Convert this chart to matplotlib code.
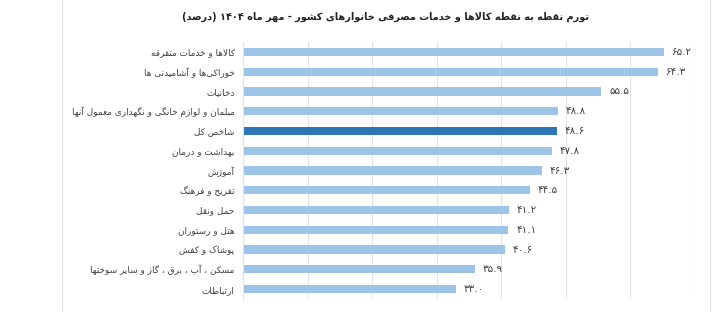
import matplotlib
matplotlib.use('Agg')
import matplotlib.pyplot as plt

# data, top to bottom
categories = ['کالاها و خدمات متفرقه',
              'خوراکی‌ها و آشامیدنی ها',
              'دخانیات',
              'مبلمان و لوازم خانگی و نگهداری معمول آنها',
              'شاخص کل',
              'بهداشت و درمان',
              'آموزش',
              'تفریح و فرهنگ',
              'حمل ونقل',
              'هتل و رستوران',
              'پوشاک و کفش',
              'مسکن ، آب ، برق ، گاز و سایر سوختها',
              'ارتباطات']
values = [65.2, 64.3, 55.5, 48.8, 48.6, 47.8, 46.3, 44.5, 41.2, 41.1, 40.6, 35.9, 33.0]
highlight = 'شاخص کل'
title = 'تورم نقطه به نقطه کالاها و خدمات مصرفی خانوارهای کشور - مهر ماه ۱۴۰۴ (درصد)'

# matplotlib has no arabic shaping, so do a small one by hand
# letter: (isolated, final, initial, medial); two forms = joins only on the right
FORMS = {
    'ا': (0xFE8D, 0xFE8E), 'آ': (0xFE81, 0xFE82), 'د': (0xFEA9, 0xFEAA),
    'ذ': (0xFEAB, 0xFEAC), 'ر': (0xFEAD, 0xFEAE), 'ز': (0xFEAF, 0xFEB0),
    'ژ': (0xFB8A, 0xFB8B), 'و': (0xFEED, 0xFEEE),
    'ب': (0xFE8F, 0xFE90, 0xFE91, 0xFE92), 'پ': (0xFB56, 0xFB57, 0xFB58, 0xFB59),
    'ت': (0xFE95, 0xFE96, 0xFE97, 0xFE98), 'ث': (0xFE99, 0xFE9A, 0xFE9B, 0xFE9C),
    'ج': (0xFE9D, 0xFE9E, 0xFE9F, 0xFEA0), 'چ': (0xFB7A, 0xFB7B, 0xFB7C, 0xFB7D),
    'ح': (0xFEA1, 0xFEA2, 0xFEA3, 0xFEA4), 'خ': (0xFEA5, 0xFEA6, 0xFEA7, 0xFEA8),
    'س': (0xFEB1, 0xFEB2, 0xFEB3, 0xFEB4), 'ش': (0xFEB5, 0xFEB6, 0xFEB7, 0xFEB8),
    'ص': (0xFEB9, 0xFEBA, 0xFEBB, 0xFEBC), 'ض': (0xFEBD, 0xFEBE, 0xFEBF, 0xFEC0),
    'ط': (0xFEC1, 0xFEC2, 0xFEC3, 0xFEC4), 'ظ': (0xFEC5, 0xFEC6, 0xFEC7, 0xFEC8),
    'ع': (0xFEC9, 0xFECA, 0xFECB, 0xFECC), 'غ': (0xFECD, 0xFECE, 0xFECF, 0xFED0),
    'ف': (0xFED1, 0xFED2, 0xFED3, 0xFED4), 'ق': (0xFED5, 0xFED6, 0xFED7, 0xFED8),
    'ک': (0xFB8E, 0xFB8F, 0xFB90, 0xFB91), 'گ': (0xFB92, 0xFB93, 0xFB94, 0xFB95),
    'ل': (0xFEDD, 0xFEDE, 0xFEDF, 0xFEE0), 'م': (0xFEE1, 0xFEE2, 0xFEE3, 0xFEE4),
    'ن': (0xFEE5, 0xFEE6, 0xFEE7, 0xFEE8), 'ه': (0xFEE9, 0xFEEA, 0xFEEB, 0xFEEC),
    'ی': (0xFBFC, 0xFBFD, 0xFBFE, 0xFBFF),
}
LAM_ALEF = {'ا': (0xFEFB, 0xFEFC), 'آ': (0xFEF5, 0xFEF6)}


def shape(s):
    chars = list(s)
    out = []
    i = 0
    prev_joins = False
    while i < len(chars):
        c = chars[i]
        if c not in FORMS:
            out.append(c if c != '\u200c' else '')
            prev_joins = False
            i += 1
            continue
        # lam + alef ligature
        if c == 'ل' and i + 1 < len(chars) and chars[i + 1] in LAM_ALEF:
            f = LAM_ALEF[chars[i + 1]]
            out.append(chr(f[1] if prev_joins else f[0]))
            prev_joins = False
            i += 2
            continue
        f = FORMS[c]
        nxt = chars[i + 1] if i + 1 < len(chars) else ''
        next_joins = len(f) == 4 and nxt in FORMS
        if prev_joins and next_joins:
            g = f[3]
        elif prev_joins:
            g = f[1]
        elif next_joins:
            g = f[2]
        else:
            g = f[0]
        out.append(chr(g))
        prev_joins = next_joins
        i += 1
    # visual order: reverse, keep digit runs left to right, mirror brackets
    vis = ''.join(out)[::-1]
    res, run = '', ''
    for ch in vis:
        if ch.isdigit() or (run and ch == '.'):
            run += ch
        else:
            res += run[::-1]
            run = ''
            res += {'(': ')', ')': '('}.get(ch, ch)
    return res + run[::-1]


def fa_num(v):
    return f'{v:.1f}'.translate(str.maketrans('0123456789', '۰۱۲۳۴۵۶۷۸۹'))


plt.rcParams['font.family'] = ['DejaVu Sans']

fig = plt.figure(figsize=(7.17, 3.12), dpi=100)
ax = fig.add_axes([243 / 717, 1 - 299 / 312, (695 - 243) / 717, (299 - 42) / 312])

colors = ['#2e75b6' if c == highlight else '#9dc3e6' for c in categories]
y = list(range(len(categories)))
ax.barh(y, values, height=0.42, color=colors, zorder=2)
ax.set_ylim(len(categories) - 0.5, -0.5)
ax.set_xlim(0, 70)
ax.set_xticks(range(0, 71, 10))
ax.set_xticklabels([])
ax.tick_params(length=0)
ax.grid(axis='x', color='#e3e3e3', linewidth=0.8, zorder=0)
for s in ['top', 'right', 'bottom']:
    ax.spines[s].set_visible(False)
ax.spines['left'].set_color('#e3e3e3')
ax.set_yticks(y)
ax.set_yticklabels([shape(c) for c in categories], fontsize=6.4, color='#404040')
ax.tick_params(axis='y', pad=6)

for yi, v in zip(y, values):
    ax.text(v + 1.2, yi, fa_num(v), va='center', ha='left', fontsize=7.5, color='#404040')

fig.text(386 / 717, 1 - 17 / 312, shape(title), ha='center', va='center',
         fontsize=7.0, fontweight='bold', color='#222222')

# outer frame lines of the original chart box
fig.add_artist(plt.Line2D([62 / 717, 62 / 717], [0, 1], color='#e3e3e3', lw=0.8))
fig.add_artist(plt.Line2D([710 / 717, 710 / 717], [0, 1], color='#e3e3e3', lw=0.8))

fig.savefig('out.png', dpi=100)
